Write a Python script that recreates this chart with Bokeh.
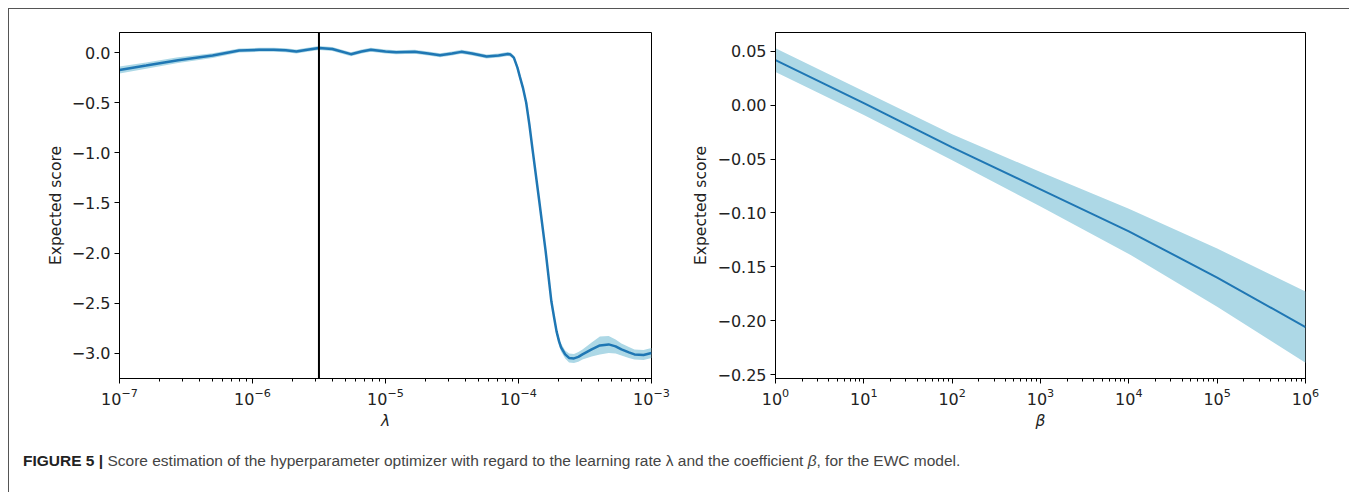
import numpy as np
from bokeh.plotting import figure
from bokeh.models import Span, LogTicker, Div, CustomJSTickFormatter
from bokeh.layouts import row, column
from bokeh.embed import file_html
from bokeh.resources import INLINE

# ---- Left panel: expected score vs learning rate lambda ----
lam_log10 = [-7.0, -6.8, -6.56, -6.3, -6.1, -5.95, -5.84, -5.75, -5.67, -5.6, -5.5,
             -5.4, -5.26, -5.18, -5.11, -5.0, -4.92, -4.78, -4.68, -4.59, -4.5,
             -4.43, -4.35, -4.24, -4.15, -4.08, -4.06, -4.035, -4.008, -3.99, -3.965,
             -3.942, -3.918, -3.893, -3.844, -3.796, -3.753, -3.73, -3.714, -3.695,
             -3.68, -3.649, -3.62, -3.583, -3.55, -3.519, -3.45, -3.388, -3.322,
             -3.27, -3.226, -3.17, -3.128, -3.06, -3.0]
lam_score = [-0.173, -0.13, -0.076, -0.03, 0.02, 0.027, 0.027, 0.022, 0.01, 0.025, 0.045,
             0.035, -0.016, 0.01, 0.027, 0.01, 0.004, 0.007, -0.01, -0.026, -0.01,
             0.007, -0.01, -0.04, -0.03, -0.015, -0.02, -0.05, -0.15, -0.24, -0.36,
             -0.50, -0.72, -0.98, -1.48, -1.98, -2.48, -2.66, -2.78, -2.88,
             -2.94, -3.01, -3.045, -3.05, -3.035, -3.01, -2.96, -2.92, -2.91,
             -2.93, -2.96, -2.99, -3.01, -3.015, -2.995]
lam_halfwidth = [0.035, 0.032, 0.028, 0.024, 0.02, 0.02, 0.02, 0.02, 0.02, 0.02, 0.02,
                 0.02, 0.02, 0.02, 0.02, 0.02, 0.02, 0.02, 0.02, 0.02, 0.02,
                 0.02, 0.02, 0.02, 0.02, 0.02, 0.02, 0.02, 0.025, 0.03, 0.03,
                 0.03, 0.03, 0.03, 0.03, 0.03, 0.03, 0.032, 0.035, 0.038,
                 0.04, 0.04, 0.045, 0.045, 0.048, 0.05, 0.07, 0.09, 0.085,
                 0.07, 0.06, 0.055, 0.05, 0.05, 0.05]
lam_best = 3.16e-6

# ---- Right panel: expected score vs coefficient beta ----
beta_vals = [1e0, 1e1, 1e2, 1e3, 1e4, 1e5, 1e6]
beta_score = [0.042, 0.002, -0.039, -0.078, -0.117, -0.160, -0.206]
beta_halfwidth = [0.011, 0.011, 0.012, 0.016, 0.021, 0.027, 0.033]

caption_html = ('<b style="color:#222">FIGURE 5 |</b> Score estimation of the hyperparameter '
                'optimizer with regard to the learning rate \u03bb and the coefficient '
                '<i>\u03b2</i>, for the EWC model.')

LINE = "#1f77b4"
BAND = "#add8e6"
TICK_FONT = "DejaVu Sans"


def style(p, xlabel):
    for ax in (p.xaxis[0], p.yaxis[0]):
        ax.major_label_text_font = TICK_FONT
        ax.major_label_text_font_size = "16px"
        ax.major_label_text_color = "#222222"
        ax.axis_label_text_font = TICK_FONT
        ax.axis_label_text_font_size = "15.5px"
        ax.axis_label_text_color = "#222222"
        ax.axis_label_text_font_style = "normal"
        ax.axis_line_color = "black"
        ax.major_tick_line_color = "black"
        ax.minor_tick_line_color = "black"
        ax.major_tick_in = 0
        ax.major_tick_out = 5
        ax.minor_tick_in = 0
        ax.minor_tick_out = 3
        ax.major_label_standoff = 4
        ax.axis_label_standoff = 4
    p.yaxis.minor_tick_line_color = None
    p.xaxis.axis_label = xlabel
    p.xaxis.axis_label_text_font_style = "italic"
    p.xaxis.ticker = LogTicker(num_minor_ticks=10)
    p.yaxis.axis_label = "Expected score"
    p.xgrid.visible = False
    p.ygrid.visible = False
    p.outline_line_color = "black"
    p.outline_line_width = 1
    p.background_fill_color = "white"
    p.border_fill_color = "white"


lam_x = np.power(10.0, np.array(lam_log10))
lam_y = np.array(lam_score)
lam_h = np.array(lam_halfwidth)

p1 = figure(width=680, height=429, x_axis_type="log", x_range=(1e-7, 1e-3),
            y_range=(-3.25, 0.2), min_border_left=110, min_border_right=38,
            min_border_top=23, min_border_bottom=60,
            output_backend="svg", toolbar_location=None)
p1.varea(x=lam_x, y1=lam_y - lam_h, y2=lam_y + lam_h, fill_color=BAND, fill_alpha=1.0)
p1.line(lam_x, lam_y, line_color=LINE, line_width=2.5)
p1.add_layout(Span(location=lam_best, dimension="height", line_color="black", line_width=2))
style(p1, "\u03bb")
p1.yaxis.ticker = [-3.0, -2.5, -2.0, -1.5, -1.0, -0.5, 0.0]
p1.yaxis.formatter = CustomJSTickFormatter(code="return tick.toFixed(1).replace('-', '\u2212');")

b_x = np.array(beta_vals)
b_y = np.array(beta_score)
b_h = np.array(beta_halfwidth)

p2 = figure(width=659, height=429, x_axis_type="log", x_range=(1e0, 1e6),
            y_range=(-0.2537, 0.0676), min_border_left=86, min_border_right=43,
            min_border_top=23, min_border_bottom=60,
            output_backend="svg", toolbar_location=None)
p2.varea(x=b_x, y1=b_y - b_h, y2=b_y + b_h, fill_color=BAND, fill_alpha=1.0)
p2.line(b_x, b_y, line_color=LINE, line_width=2)
style(p2, "\u03b2")
p2.yaxis.ticker = [-0.25, -0.20, -0.15, -0.10, -0.05, 0.0, 0.05]
p2.yaxis.formatter = CustomJSTickFormatter(code="return tick.toFixed(2).replace('-', '\u2212');")

cap = Div(text=caption_html, width=1330, height=50,
          styles={"font-family": "'Liberation Sans', Arial, sans-serif",
                  "font-size": "15.5px", "color": "#444444",
                  "padding-left": "9px", "padding-top": "7px"})

layout = column(row(p1, p2), cap,
                styles={"border-top": "1.5px solid #555555",
                        "border-left": "1.5px solid #555555",
                        "margin-left": "8px", "margin-top": "8px"})

open("out.html", "w").write(file_html(layout, INLINE))
